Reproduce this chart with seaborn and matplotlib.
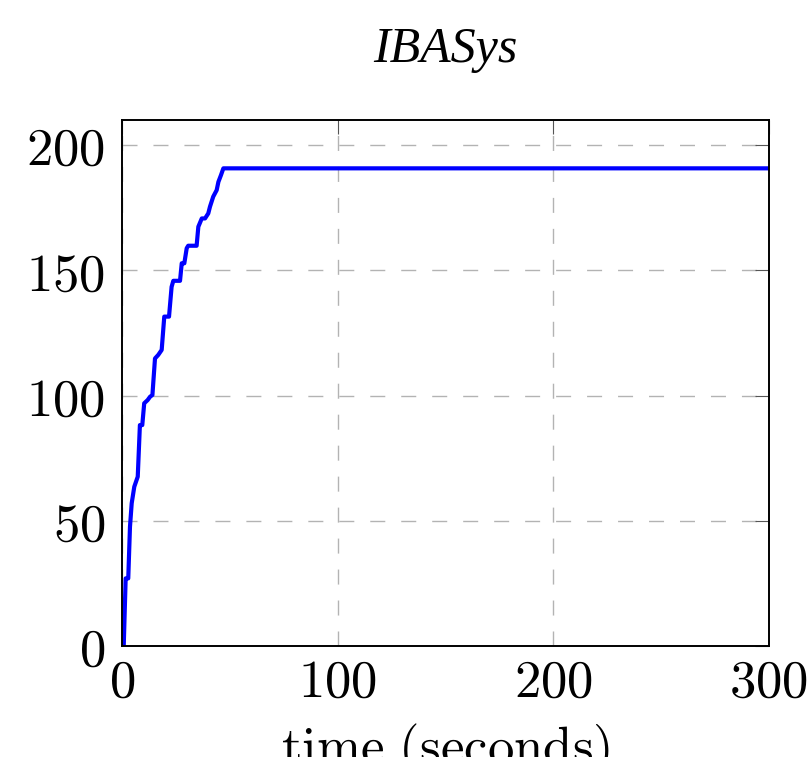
import matplotlib
matplotlib.use("Agg")
import matplotlib.pyplot as plt
import seaborn as sns
import pandas as pd
from matplotlib.ticker import FuncFormatter, FixedLocator

# Data
time_s = [0.8, 1.7, 2.9, 3.7, 4.5, 5.7, 7.3, 8.3, 9.4, 10.3, 11.9, 13.0, 14.1,
          15.3, 16.8, 18.4, 19.6, 21.8, 23.0, 23.8, 26.9, 27.7, 28.9, 30.0,
          30.7, 34.6, 35.4, 37.0, 38.5, 40.0, 40.8, 42.3, 43.9, 44.7, 45.9,
          47.0, 300.0]
solved = [0, 27, 27, 47.6, 57, 63.6, 67.6, 88.2, 88.2, 96.9, 98.2, 99.5, 100.2,
          114.8, 116.2, 118.2, 131.5, 131.5, 143.4, 145.8, 145.8, 152.8, 152.8,
          158.8, 159.8, 159.8, 167.4, 170.7, 170.7, 172.7, 175.4, 179.4, 182.0,
          185.3, 188.0, 190.7, 190.7]
x_ticks = [0, 100, 200, 300]
y_ticks = [0, 50, 100, 150, 200]
title = "IBASys"
x_label = "time (seconds)"

df = pd.DataFrame({"time": time_s, "solved": solved})

sns.set_style("white")
plt.rcParams["mathtext.fontset"] = "cm"
plt.rcParams["font.family"] = ["DejaVu Serif"]
plt.rcParams["text.color"] = "black"
plt.rcParams["axes.labelcolor"] = "black"

fig = plt.figure(figsize=(8.09, 7.57), dpi=100)
ax = fig.add_axes([122 / 809, 1 - 646 / 757, (769 - 122) / 809, (646 - 120) / 757])

sns.lineplot(data=df, x="time", y="solved", ax=ax, color="#0000ff",
             linewidth=3.0, estimator=None, sort=False)

ax.set_xlim(0, 300)
ax.set_ylim(0, 210)
ax.xaxis.set_major_locator(FixedLocator(x_ticks))
ax.yaxis.set_major_locator(FixedLocator(y_ticks))
fmt = FuncFormatter(lambda v, p: r"$%d$" % v)
ax.xaxis.set_major_formatter(fmt)
ax.yaxis.set_major_formatter(fmt)

ax.grid(True, color="#b3b3b3", linewidth=1.0, linestyle=(0, (10.8, 11.5)))
ax.set_axisbelow(True)
ax.tick_params(axis="both", which="major", direction="in", length=10,
               width=0.8, color="#555555", labelsize=38,
               top=True, right=True, labelcolor="black")
ax.tick_params(axis="x", pad=8)
ax.tick_params(axis="y", pad=12)
for s in ax.spines.values():
    s.set_visible(True)
    s.set_color("black")
    s.set_linewidth(1.4)

label_fmt = r"$\mathrm{" + x_label.replace(" ", r"\ ") + "}$"
ax.set_xlabel(label_fmt, fontsize=38, labelpad=10, color="black")
ax.set_ylabel("")
ax.text(0.5, 1 + 58 / 526, title, transform=ax.transAxes, ha="center",
        va="baseline", fontsize=36, fontstyle="italic", color="black",
        family=["Liberation Serif"])

fig.savefig("out.png", dpi=100)
